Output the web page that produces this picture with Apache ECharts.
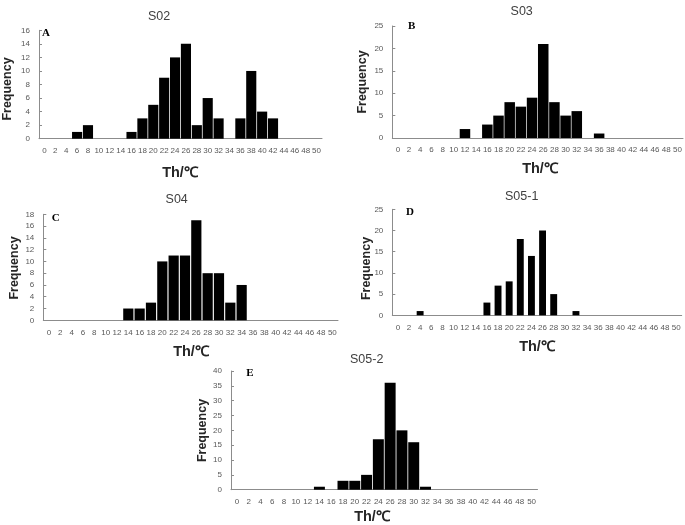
<!DOCTYPE html>
<html>
<head>
<meta charset="utf-8">
<script src="https://cdn.jsdelivr.net/npm/echarts@6/dist/echarts.min.js"></script>
<style>
html,body{margin:0;padding:0;background:#fff;}
#chart{width:685px;height:525px;}
</style>
</head>
<body>
<div id="chart"></div>
<script>
var categories = ['0','2','4','6','8','10','12','14','16','18','20','22','24','26','28','30','32','34','36','38','40','42','44','46','48','50'];
var valuesS02 = [0,0,0,1,2,0,0,0,1,3,5,9,12,14,2,6,3,0,3,10,4,3,0,0,0,0];
var valuesS03 = [0,0,0,0,0,0,2,0,3,5,8,7,9,21,8,5,6,0,1,0,0,0,0,0,0,0];
var valuesS04 = [0,0,0,0,0,0,0,2,2,3,10,11,11,17,8,8,3,6,0,0,0,0,0,0,0,0];
var valuesS051 = [0,0,1,0,0,0,0,0,3,7,8,18,14,20,5,0,1,0,0,0,0,0,0,0,0,0];
var valuesS052 = [0,0,0,0,0,0,0,1,0,3,3,5,17,36,20,16,1,0,0,0,0,0,0,0,0,0];
var panelTitles = ['S02','S03','S04','S05-1','S05-2'];
var panelLetters = ['A','B','C','D','E'];
var yMax = [16,25,18,25,40];
var yStep = [2,5,2,5,5];
var xName = 'Th/℃';
var yName = 'Frequency';

var seriesValues = [valuesS02, valuesS03, valuesS04, valuesS051, valuesS052];

// layout (pixels)
var grids = [
  {left:39, top:30.3, width:283, height:108.4},
  {left:392.3, top:26, width:290.7, height:112},
  {left:43.3, top:214.3, width:294.7, height:106},
  {left:392.3, top:209.3, width:289.4, height:106},
  {left:231, top:371, width:306.5, height:118.7}
];
var titlePos = [[154,12],[516.7,7.5],[171.7,195],[516.7,191.7],[361.7,355]];
var letterPos = [[46,33],[411.7,26.5],[55.7,218],[410,212.5],[250,373]];
var xNamePos = [[180,173],[540,169],[191,352],[537,347],[372,517]];
var yNamePos = [[7.7,89],[363,82],[15,268],[366.7,268.5],[203,430.5]];
var gaps = ['7%','6%','10%','38%','7%'];

var axisColor = '#8c8c8c';
var labelColor = '#595959';
var font = 'Liberation Sans, Arial, sans-serif';

var option = {
  backgroundColor:'#fff',
  animation:false,
  title: [],
  grid: [],
  xAxis: [],
  yAxis: [],
  series: [],
  graphic: []
};

for (var i = 0; i < 5; i++) {
  option.grid.push({left:grids[i].left, top:grids[i].top, width:grids[i].width, height:grids[i].height, containLabel:false});
  option.title.push({
    text: panelTitles[i], left: titlePos[i][0], top: titlePos[i][1] - 7, textAlign:'center',
    textStyle:{fontSize:12.5, fontWeight:'normal', color:'#404040', fontFamily:font}
  });
  option.xAxis.push({
    type:'category', gridIndex:i, data:categories, boundaryGap:true,
    axisLine:{show:true, lineStyle:{color:axisColor, width:1}},
    axisTick:{show:false},
    axisLabel:{interval:0, fontSize:8, color:labelColor, margin:8, fontFamily:font},
    splitLine:{show:false}
  });
  option.yAxis.push({
    type:'value', gridIndex:i, min:0, max:yMax[i], interval:yStep[i],
    axisLine:{show:true, lineStyle:{color:axisColor, width:1}},
    axisTick:{show:true, inside:true, length:3, lineStyle:{color:axisColor}},
    axisLabel:{fontSize:8, color:labelColor, margin:9, fontFamily:font},
    splitLine:{show:false}
  });
  option.series.push({
    type:'bar', xAxisIndex:i, yAxisIndex:i, data:seriesValues[i],
    barCategoryGap:gaps[i], itemStyle:{color:'#000'}, silent:true
  });
  option.graphic.push({
    type:'text', x:letterPos[i][0], y:letterPos[i][1],
    style:{text:panelLetters[i], fontSize:11, fontWeight:'bold', fontFamily:'Liberation Serif, Times New Roman, serif', fill:'#000', align:'center', verticalAlign:'middle'}
  });
  option.graphic.push({
    type:'text', x:xNamePos[i][0], y:xNamePos[i][1],
    style:{text:xName, fontSize:14.5, fontWeight:'bold', fontFamily:font, fill:'#262626', align:'center', verticalAlign:'middle'}
  });
  option.graphic.push({
    type:'text', x:yNamePos[i][0], y:yNamePos[i][1], rotation:Math.PI/2,
    style:{text:yName, fontSize:12.5, fontWeight:'bold', fontFamily:font, fill:'#262626', align:'center', verticalAlign:'middle'}
  });
}

var chart = echarts.init(document.getElementById('chart'), null, {renderer:'canvas'});
chart.setOption(option);
</script>
</body>
</html>
